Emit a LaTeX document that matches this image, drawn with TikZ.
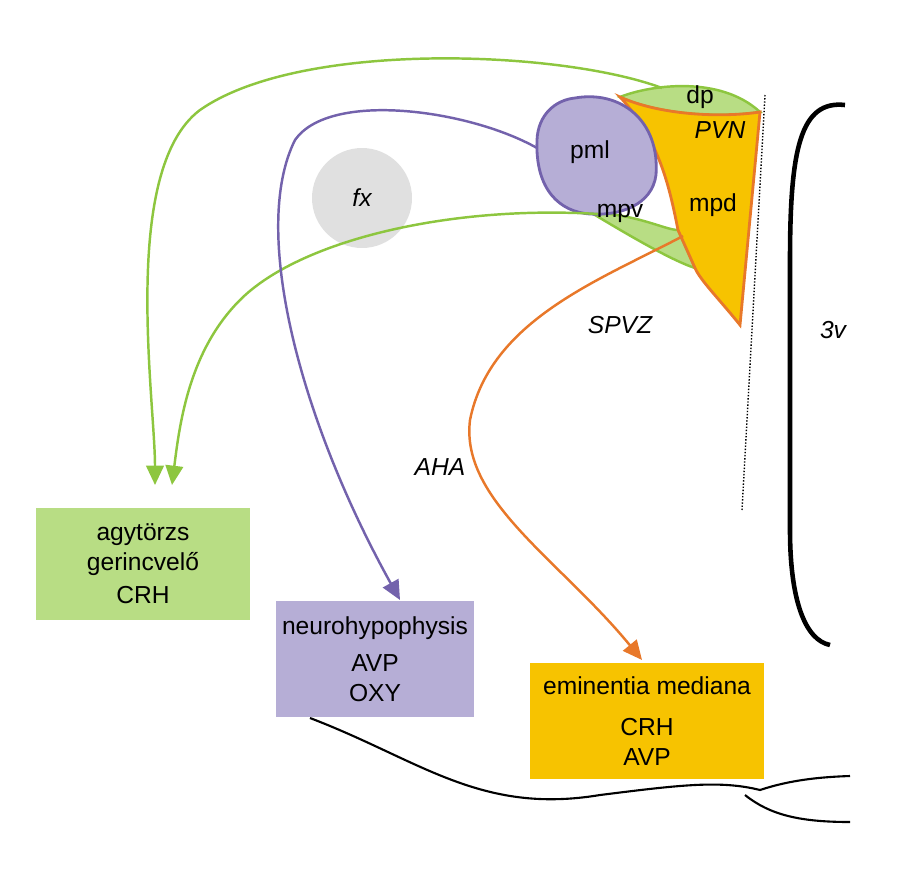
\documentclass[tikz,border=0pt]{standalone}
\usepackage{fontspec}
\setmainfont{Liberation Sans}
\usetikzlibrary{arrows.meta}
\definecolor{grline}{HTML}{8DC63F}
\definecolor{grfill}{HTML}{B8DD84}
\definecolor{puline}{HTML}{7362AC}
\definecolor{pufill}{HTML}{B6AED6}
\definecolor{orline}{HTML}{E8782A}
\definecolor{orfill}{HTML}{F7C300}
\tikzset{
  box/.style={minimum width=4.3cm, align=center, font=\fontsize{14}{17}\selectfont},
  lab/.style={font=\fontsize{14}{17}\selectfont},
  ilab/.style={font=\itshape\fontsize{14}{17}\selectfont},
  proj/.style={line width=1.4pt, -{Triangle[length=11pt,width=10pt]}},
}
\begin{document}
\begin{tikzpicture}[x=0.02cm, y=-0.02cm]
\useasboundingbox (0,0) rectangle (916,872);
% ventricle and outlines
\draw[line width=2.6pt] (845,105) .. controls (800,100) and (790,150) .. (790,260) -- (790,530) .. controls (790,600) and (805,640) .. (830,645);
\draw[densely dotted, line width=0.8pt] (765,95) -- (742,510);
\draw[line width=1.2pt] (310,718) .. controls (420,760) and (480,815) .. (600,795) .. controls (680,785) and (720,780) .. (760,790) .. controls (790,780) and (820,777) .. (850,776);
\draw[line width=1.2pt] (745,795) .. controls (770,815) and (800,822) .. (850,822);
\fill[black!12] (362,198) circle (50);
\node[ilab] (fx) at (362,198) {fx};
% PVN
\draw[grline, fill=grfill, line width=1.4pt] (620,97) .. controls (650,85) and (720,75) .. (760,112) .. controls (720,118) and (660,115) .. (620,97) -- cycle;
\draw[grline, fill=grfill, line width=1.4pt] (590,212) .. controls (640,215) and (665,230) .. (678,230) -- (695,268) .. controls (670,260) and (620,230) .. (590,212) -- cycle;
\draw[orline, fill=orfill, line width=1.6pt] (620,97) .. controls (660,115) and (720,118) .. (760,112) -- (740,325) .. controls (720,300) and (700,280) .. (695,268) -- (678,230) .. controls (670,190) and (660,140) .. (620,97) -- cycle;
\draw[puline, fill=pufill, line width=1.6pt] (575,98) .. controls (620,90) and (660,120) .. (656,175) .. controls (652,205) and (620,216) .. (590,214) .. controls (560,212) and (535,190) .. (537,140) .. controls (538,115) and (555,100) .. (575,98) -- cycle;
\node[lab] (dp) at (700,97) {dp};
\node[lab] (pml) at (590,152) {pml};
\node[lab] (mpv) at (620,213) {mpv};
\node[lab] (mpd) at (713,205) {mpd};
\node[ilab] (pvn) at (720,130) {PVN};
\node[ilab] (spvz) at (620,325) {SPVZ};
\node[ilab] (aha) at (440,467) {AHA};
\node[ilab] (v3) at (833,330) {3v};
% target boxes
\node[box, fill=grfill, minimum height=2.26cm] (stem) at (143,564) {agytörzs\\gerincvelő\\[2pt]CRH};
\node[box, fill=pufill, minimum width=3.9cm, minimum height=2.34cm] (hypo) at (375,659) {neurohypophysis\\[4pt]AVP\\OXY};
\node[box, fill=orfill, minimum width=4.7cm, minimum height=2.34cm] (em) at (647,721) {eminentia mediana\\[6pt]CRH\\AVP};
\coordinate (dpout) at (662,88);
\coordinate (mpvout) at (598,214);
\coordinate (pmlout) at (537,148);
\coordinate (mpdout) at (683,236);
% projections
\draw[proj, grline] (dpout) .. controls (560,50) and (300,40) .. (200,110) .. controls (120,170) and (155,400) .. (155,485);
\draw[proj, grline] (mpvout) .. controls (450,205) and (300,240) .. (240,300) .. controls (190,350) and (180,420) .. (172,485);
\draw[proj, puline] (pmlout) .. controls (470,110) and (330,90) .. (295,140) .. controls (250,230) and (300,420) .. (400,600);
\draw[proj, orline] (mpdout) .. controls (600,280) and (490,320) .. (470,420) .. controls (460,500) and (560,560) .. (642,660);
\end{tikzpicture}
\end{document}
